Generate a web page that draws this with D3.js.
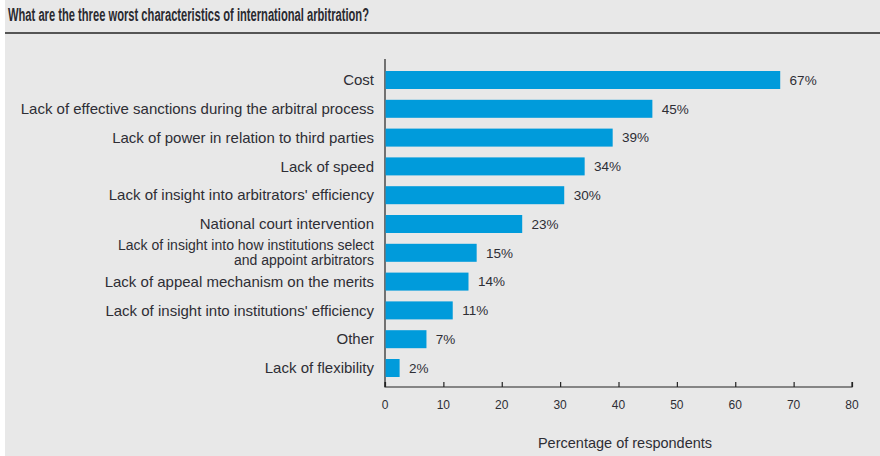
<!DOCTYPE html>
<html>
<head>
<meta charset="utf-8">
<script src="https://cdn.jsdelivr.net/npm/d3@7"></script>
<style>
  body { margin: 0; background: #fff; }
  svg { display: block; }
</style>
</head>
<body>
<div id="chart"></div>
<script>
// 項目（上から順）
const categories = [
    "Cost",
    "Lack of effective sanctions during the arbitral process",
    "Lack of power in relation to third parties",
    "Lack of speed",
    "Lack of insight into arbitrators' efficiency",
    "National court intervention",
    "Lack of insight into how institutions select|and appoint arbitrators",
    "Lack of appeal mechanism on the merits",
    "Lack of insight into institutions' efficiency",
    "Other",
    "Lack of flexibility"
];
// バーの長さ
const values = [67.6, 45.7, 38.9, 34.1, 30.6, 23.4, 15.6, 14.2, 11.5, 7.0, 2.4];
// 表示ラベル
const valueLabels = ["67%", "45%", "39%", "34%", "30%", "23%", "15%", "14%", "11%", "7%", "2%"];
const xTicks = [0, 10, 20, 30, 40, 50, 60, 70, 80];

const W = 880, H = 456;
const margin = { top: 65.6, left: 385, right: 28, bottom: 73.6 };
const textColor = "#2e2e35";
const font = "'Liberation Sans', Arial, sans-serif";

const svg = d3.select("#chart")
    .append("svg")
    .attr("width", W)
    .attr("height", H);

// 背景パネル
svg.append("rect")
    .attr("x", 5).attr("y", 0)
    .attr("width", W - 5).attr("height", H)
    .attr("fill", "#e8e8e8");

// タイトル
svg.append("text")
    .attr("x", 8)
    .attr("y", 21)
    .attr("font-family", "'Liberation Sans Narrow', 'Arial Narrow', " + font)
    .attr("font-weight", "bold")
    .attr("font-size", "18px")
    .attr("fill", "#2a2a30")
    .attr("textLength", 361)
    .attr("lengthAdjust", "spacingAndGlyphs")
    .text("What are the three worst characteristics of international arbitration?");

svg.append("line")
    .attr("x1", 5).attr("x2", W)
    .attr("y1", 33).attr("y2", 33)
    .attr("stroke", "#555")
    .attr("stroke-width", 2);

const xScale = d3.scaleLinear()
    .domain([0, 80])
    .range([margin.left, W - margin.right]);

const yScale = d3.scaleBand()
    .domain(categories)
    .range([margin.top, H - margin.bottom])
    .paddingInner(0.375)
    .paddingOuter(0.1875);

const axisY = 387;

// y軸の線
svg.append("line")
    .attr("x1", margin.left).attr("x2", margin.left)
    .attr("y1", 59).attr("y2", axisY)
    .attr("stroke", "#222")
    .attr("stroke-width", 1.2);

// バー
svg.selectAll(".bar")
    .data(values)
    .enter()
    .append("rect")
    .attr("class", "bar")
    .attr("x", xScale(0) + 0.6)
    .attr("y", (d, i) => yScale(categories[i]))
    .attr("width", d => xScale(d) - xScale(0))
    .attr("height", yScale.bandwidth())
    .attr("fill", "#009bdb");

// 値ラベル
svg.selectAll(".val")
    .data(values)
    .enter()
    .append("text")
    .attr("class", "val")
    .attr("x", d => xScale(d) + 10)
    .attr("y", (d, i) => yScale(categories[i]) + yScale.bandwidth() / 2)
    .attr("dy", "0.35em")
    .attr("font-family", font)
    .attr("font-size", "13.5px")
    .attr("fill", textColor)
    .text((d, i) => valueLabels[i]);

// カテゴリラベル（| で改行）
svg.selectAll(".cat")
    .data(categories)
    .enter()
    .append("text")
    .attr("class", "cat")
    .attr("text-anchor", "end")
    .attr("font-family", font)
    .attr("font-size", d => d.includes("|") ? "14px" : "15px")
    .attr("fill", textColor)
    .each(function (d) {
        const lines = d.split("|");
        const cy = yScale(d) + yScale.bandwidth() / 2;
        const lh = 15;
        lines.forEach((t, j) => {
            d3.select(this).append("tspan")
                .attr("x", 374)
                .attr("y", cy + (j - (lines.length - 1) / 2) * lh)
                .attr("dy", "0.35em")
                .text(t);
        });
    });

// x軸
const xAxis = svg.append("g")
    .attr("transform", `translate(0,${axisY})`)
    .call(d3.axisTop(xScale).tickValues(xTicks).tickSize(5).tickFormat(""));
xAxis.select(".domain").attr("stroke", "#222").attr("stroke-width", 1.2)
    .attr("d", `M${xScale(0)},-5V0H${xScale(80)}V-5`);
xAxis.selectAll(".tick line").attr("stroke", "#222").attr("stroke-width", 1.2);

svg.selectAll(".xlab")
    .data(xTicks)
    .enter()
    .append("text")
    .attr("class", "xlab")
    .attr("x", d => xScale(d))
    .attr("y", 409)
    .attr("text-anchor", "middle")
    .attr("font-family", font)
    .attr("font-size", "12px")
    .attr("fill", textColor)
    .text(d => d);

svg.append("text")
    .attr("x", 625)
    .attr("y", 448)
    .attr("text-anchor", "middle")
    .attr("font-family", font)
    .attr("font-size", "14.5px")
    .attr("fill", textColor)
    .text("Percentage of respondents");
</script>
</body>
</html>
